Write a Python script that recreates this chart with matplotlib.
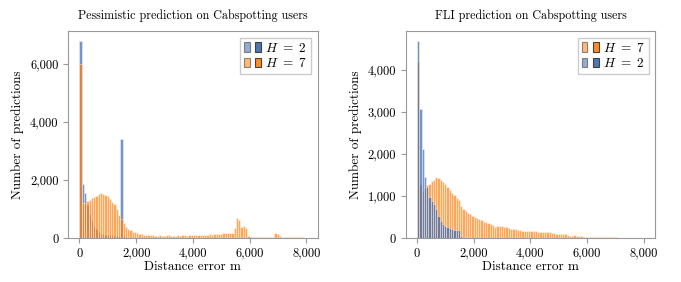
import numpy as np
import matplotlib
matplotlib.use("Agg")
import matplotlib.pyplot as plt
from matplotlib.patches import Patch
from matplotlib.legend_handler import HandlerTuple
from matplotlib.ticker import FuncFormatter

plt.rcParams['font.family'] = ['cmr10', 'DejaVu Serif']
plt.rcParams['mathtext.fontset'] = 'cm'
plt.rcParams['axes.unicode_minus'] = False
plt.rcParams['axes.formatter.use_mathtext'] = True
plt.rcParams['font.size'] = 9

# histogram bins: 80 m wide, starting at 0
bin_width = 80

# Pessimistic prediction (left)
pess_h2 = [6780, 1860, 1550, 1150, 830, 600, 425, 310, 195, 150,
           130, 110, 100, 95, 90, 85, 80, 80, 3400, 60, 30]
pess_h7 = [6000, 1200, 1190, 1260, 1320, 1390, 1420, 1460, 1510, 1540,
           1530, 1490, 1440, 1340, 1250, 1180, 1010, 780, 640, 500,
           365, 300, 260, 220, 190, 180, 150, 125, 115, 100,
           90, 110, 95, 80, 85, 100, 75, 80, 95, 90,
           80, 85, 75, 90, 80, 100, 95, 85, 110, 100,
           95, 115, 105, 120, 110, 100, 120, 125, 110, 130,
           125, 150, 140, 165, 170, 160, 175, 180, 345, 700,
           620, 370, 400, 330, 60, 45, 45, 50, 40, 45,
           45, 40, 50, 45, 40, 45, 160, 150, 80, 45,
           40, 40, 35, 35, 25, 25, 20, 25, 20, 15]

# FLI prediction (right)
fli_h2 = [4690, 3080, 2120, 1450, 1225, 970, 890, 810, 690, 530,
          410, 330, 280, 250, 235, 215, 200, 190, 180, 55, 20]
fli_h7 = [4180, 1270, 1130, 1200, 1250, 1290, 1350, 1380, 1450, 1420,
          1380, 1330, 1290, 1210, 1145, 1065, 1030, 960, 905, 750,
          700, 650, 600, 575, 530, 490, 480, 455, 420, 390,
          370, 350, 335, 300, 270, 295, 290, 285, 255, 250,
          240, 215, 215, 215, 190, 200, 175, 160, 165, 160,
          160, 170, 160, 150, 135, 140, 145, 135, 140, 110,
          110, 105, 100, 95, 95, 90, 60, 55, 55, 60,
          55, 50, 45, 35, 30, 30, 30, 25, 30, 25,
          30, 20, 15, 35, 15, 35, 15, 15, 10, 10,
          10, 10, 10, 8, 8, 8, 5, 5, 5, 5]

c_h2 = '#3a68ad'
c_h7 = '#ff7f0e'
alpha = 0.7
spine_col = '#999999'


def draw_hist(ax, counts, color):
    x = np.arange(len(counts)) * bin_width
    ax.bar(x, counts, width=bin_width, align='edge', color=color, alpha=alpha,
           edgecolor='white', linewidth=0.4)


def handle(color):
    return (Patch(facecolor=color, alpha=0.55, edgecolor='#333333', linewidth=0.8),
            Patch(facecolor=color, alpha=0.9, edgecolor='#333333', linewidth=0.8))


def style(ax, title):
    ax.set_title(title, fontsize=8.7, pad=9)
    ax.set_xlabel('Distance error m', fontsize=9.5, labelpad=1)
    ax.set_ylabel('Number of predictions', fontsize=9.5, labelpad=4)
    for s in ax.spines.values():
        s.set_color(spine_col)
        s.set_linewidth(0.8)
    ax.tick_params(colors=spine_col, labelcolor='black', labelsize=9, length=3.5, width=0.8)
    ax.set_xticks([0, 2000, 4000, 6000, 8000])
    fmt = FuncFormatter(lambda v, p: f'{int(v):,}')
    ax.xaxis.set_major_formatter(fmt)
    ax.yaxis.set_major_formatter(fmt)


fig, (ax1, ax2) = plt.subplots(1, 2, figsize=(6.81, 2.82), dpi=100)
fig.subplots_adjust(left=0.100, right=0.962, top=0.890, bottom=0.156, wspace=0.353)

draw_hist(ax1, pess_h2, c_h2)
draw_hist(ax1, pess_h7, c_h7)
style(ax1, 'Pessimistic prediction on Cabspotting users')
ax1.set_yticks([0, 2000, 4000, 6000])
ax1.legend([handle(c_h2), handle(c_h7)], ['$H\\ =\\ 2$', '$H\\ =\\ 7$'],
           handler_map={tuple: HandlerTuple(ndivide=None, pad=0.4)},
           loc='upper right', fontsize=9.5, handlelength=1.3, handletextpad=0.3,
           borderpad=0.3, labelspacing=0.2, fancybox=False, edgecolor='#cccccc', framealpha=1)

draw_hist(ax2, fli_h7, c_h7)
draw_hist(ax2, fli_h2, c_h2)
style(ax2, 'FLI prediction on Cabspotting users')
ax2.set_yticks([0, 1000, 2000, 3000, 4000])
ax2.legend([handle(c_h7), handle(c_h2)], ['$H\\ =\\ 7$', '$H\\ =\\ 2$'],
           handler_map={tuple: HandlerTuple(ndivide=None, pad=0.4)},
           loc='upper right', fontsize=9.5, handlelength=1.3, handletextpad=0.3,
           borderpad=0.3, labelspacing=0.2, fancybox=False, edgecolor='#cccccc', framealpha=1)

fig.savefig('out.png', dpi=100)
